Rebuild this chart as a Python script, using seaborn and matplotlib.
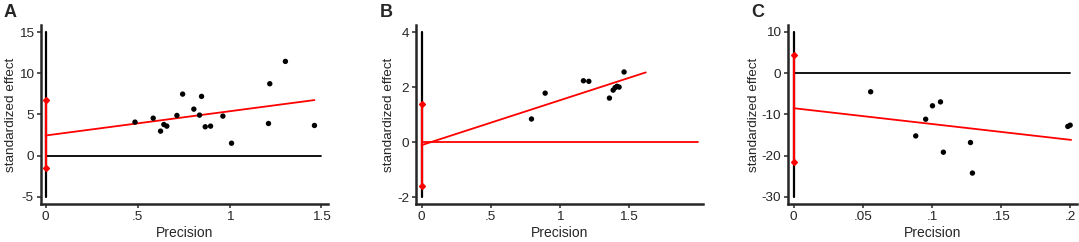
import numpy as np
import pandas as pd
import seaborn as sns
import matplotlib.pyplot as plt

# Panel A
a_prec = [0.486, 0.585, 0.625, 0.643, 0.659, 0.714, 0.745, 0.806, 0.837, 0.848,
          0.868, 0.897, 0.964, 1.011, 1.212, 1.219, 1.304, 1.462]
a_eff = [4.07, 4.55, 2.97, 3.78, 3.58, 4.88, 7.48, 5.65, 4.92, 7.20,
         3.50, 3.58, 4.80, 1.50, 3.90, 8.74, 11.46, 3.66]
# Panel B
b_prec = [0.795, 0.894, 1.171, 1.210, 1.359, 1.386, 1.400, 1.414, 1.429, 1.465]
b_eff = [0.85, 1.79, 2.24, 2.22, 1.61, 1.90, 1.99, 2.04, 2.01, 2.56]
# Panel C
c_prec = [0.0557, 0.0883, 0.0955, 0.1004, 0.1062, 0.1083, 0.1279, 0.1293, 0.1983, 0.2000]
c_eff = [-4.5, -15.2, -11.15, -7.9, -6.95, -19.15, -16.8, -24.2, -12.9, -12.6]

# Egger regression: intercept, slope, end of fitted line, CI of intercept
fit_intercept = [2.44, -0.10, -8.48]
fit_slope = [2.95, 1.63, -38.3]
fit_xend = [1.462, 1.622, 0.2007]
ci_low = [-1.54, -1.59, -21.5]
ci_high = [6.71, 1.41, 4.44]

panel_labels = ["A", "B", "C"]
yticks = [[-5, 0, 5, 10, 15], [-2, 0, 2, 4], [-30, -20, -10, 0, 10]]
xticks = [[0, 0.5, 1, 1.5], [0, 0.5, 1, 1.5], [0, 0.05, 0.1, 0.15, 0.2]]
xticklabels = [["0", ".5", "1", "1.5"], ["0", ".5", "1", "1.5"], ["0", ".05", ".1", ".15", ".2"]]
xlims = [(-0.027, 1.534), (-0.041, 2.036), (-0.00386, 0.2053)]
ylims = [(-5.9, 15.9), (-2.24, 4.27), (-31.7, 11.7)]
zero_line_end = [1.5, 2.0, 0.2]
zero_line_color = ["black", "red", "black"]

sns.set_style("ticks")
plt.rcParams['font.family'] = ['Liberation Sans', 'DejaVu Sans']
plt.rcParams['axes.unicode_minus'] = False

fig = plt.figure(figsize=(10.79, 2.42), dpi=100)
lefts = [0.0377, 0.3855, 0.7306]
widths = [0.266, 0.266, 0.268]

data = [(a_prec, a_eff), (b_prec, b_eff), (c_prec, c_eff)]
for i in range(3):
    ax = fig.add_axes([lefts[i], 0.157, widths[i], 0.74])
    prec, eff = data[i]
    df = pd.DataFrame({"Precision": prec, "standardized effect": eff})

    # vertical reference at 0 (black) over the y tick range
    ax.plot([0, 0], [yticks[i][0], yticks[i][-1]], color="black", lw=1.6, zorder=1)
    # horizontal zero line
    ax.plot([0, zero_line_end[i]], [0, 0], color=zero_line_color[i], lw=1.3, zorder=1)

    sns.scatterplot(data=df, x="Precision", y="standardized effect", ax=ax,
                    color="black", s=15, edgecolor="none", zorder=3)

    line_df = pd.DataFrame({"x": [0, fit_xend[i]],
                            "y": [fit_intercept[i], fit_intercept[i] + fit_slope[i] * fit_xend[i]]})
    sns.lineplot(data=line_df, x="x", y="y", ax=ax, color="red", lw=1.3, zorder=2)

    # CI of the intercept
    ax.plot([0, 0], [ci_low[i], ci_high[i]], color="red", lw=1.6, zorder=2,
            marker="D", markersize=3)

    ax.set_xlim(*xlims[i])
    ax.set_ylim(*ylims[i])
    ax.set_xticks(xticks[i])
    ax.set_xticklabels(xticklabels[i])
    ax.set_yticks(yticks[i])
    ax.set_xlabel("Precision", fontsize=10, labelpad=2)
    ax.set_ylabel("standardized effect", fontsize=9.7, labelpad=1)
    ax.tick_params(labelsize=9.7, length=3, width=1.1, pad=2)
    for s in ["left", "bottom"]:
        ax.spines[s].set_linewidth(1.8)
    sns.despine(ax=ax)
    fig.text(lefts[i] - 0.034, 0.93, panel_labels[i], fontsize=13, fontweight="bold")

plt.savefig("out.png", dpi=100)
plt.close()
